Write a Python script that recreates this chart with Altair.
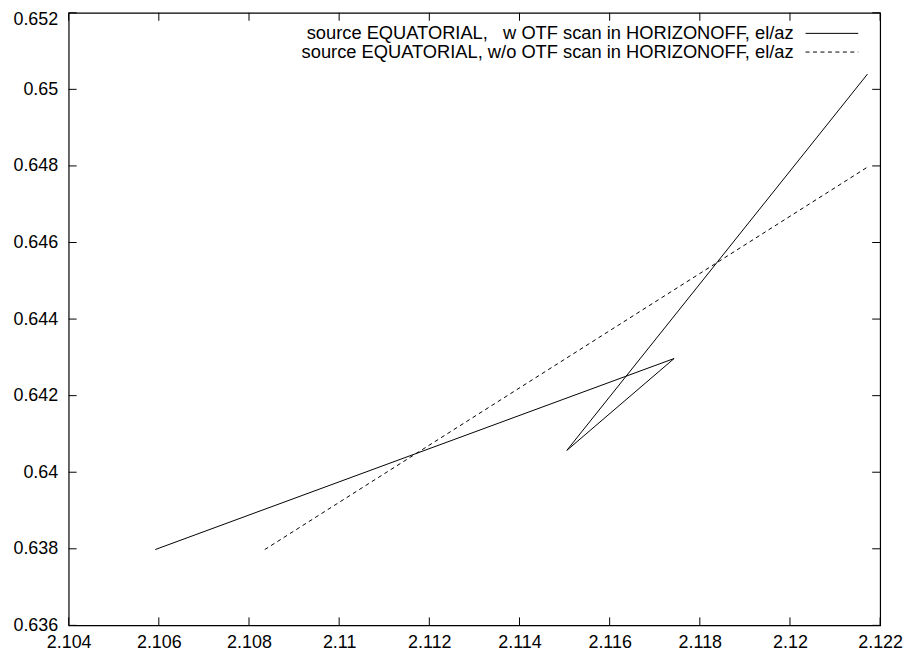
import altair as alt
import pandas as pd

# ---- data ----
solid_label = "source EQUATORIAL,\u00a0\u00a0 w OTF scan in HORIZONOFF, el/az"
dashed_label = "source EQUATORIAL, w/o OTF scan in HORIZONOFF, el/az"

solid_x = [2.10592, 2.11743, 2.11505, 2.12172]
solid_y = [0.63798, 0.64297, 0.64057, 0.65040]
dashed_x = [2.10835, 2.12172]
dashed_y = [0.63798, 0.64797]

x_ticks = [2.104, 2.106, 2.108, 2.110, 2.112, 2.114, 2.116, 2.118, 2.120, 2.122]
y_ticks = [0.636, 0.638, 0.640, 0.642, 0.644, 0.646, 0.648, 0.650, 0.652]

W, H = 816, 616
FONT = "Liberation Sans"

solid_df = pd.DataFrame({"x": solid_x, "y": solid_y, "i": list(range(len(solid_x)))})
dashed_df = pd.DataFrame({"x": dashed_x, "y": dashed_y, "i": list(range(len(dashed_x)))})
xt_df = pd.DataFrame({"t": x_ticks})
yt_df = pd.DataFrame({"t": y_ticks})

xscale = alt.Scale(domain=[x_ticks[0], x_ticks[-1]], nice=False, zero=False)
yscale = alt.Scale(domain=[y_ticks[0], y_ticks[-1]], nice=False, zero=False)

xaxis = alt.Axis(values=x_ticks, format=".3~f", title=None, ticks=False, domain=False,
                 grid=False, labelFont=FONT, labelFontSize=18, labelColor="black",
                 labelPadding=8, labelFlush=False)
yaxis = alt.Axis(values=y_ticks, format=".3~f", title=None, ticks=False, domain=False,
                 grid=False, labelFont=FONT, labelFontSize=18, labelColor="black",
                 labelPadding=11, labelFlush=False,
                 labelOffset=alt.ExprRef(expr="datum.value > 0.6515 ? 7 : 0"))

solid = alt.Chart(solid_df).mark_line(color="black", strokeWidth=1).encode(
    x=alt.X("x:Q", scale=xscale, axis=xaxis),
    y=alt.Y("y:Q", scale=yscale, axis=yaxis),
    order="i:Q",
)
dashed = alt.Chart(dashed_df).mark_line(color="black", strokeWidth=1, strokeDash=[4, 3.5]).encode(
    x=alt.X("x:Q", scale=xscale),
    y=alt.Y("y:Q", scale=yscale),
    order="i:Q",
)

tick_len = 8
xt_bottom = alt.Chart(xt_df).mark_rule(color="black", strokeWidth=1).encode(
    x=alt.X("t:Q", scale=xscale), y=alt.value(H), y2=alt.value(H - tick_len))
xt_top = alt.Chart(xt_df).mark_rule(color="black", strokeWidth=1).encode(
    x=alt.X("t:Q", scale=xscale), y=alt.value(0), y2=alt.value(tick_len))
yt_left = alt.Chart(yt_df).mark_rule(color="black", strokeWidth=1).encode(
    y=alt.Y("t:Q", scale=yscale), x=alt.value(0), x2=alt.value(tick_len))
yt_right = alt.Chart(yt_df).mark_rule(color="black", strokeWidth=1).encode(
    y=alt.Y("t:Q", scale=yscale), x=alt.value(W), x2=alt.value(W - tick_len))

# legend (gnuplot style: text on the left, sample on the right)
leg1_text = alt.Chart(pd.DataFrame({"l": [solid_label]})).mark_text(
    font=FONT, fontSize=18.4, align="right", baseline="alphabetic", color="black").encode(
    text="l:N", x=alt.value(729), y=alt.value(26.6))
leg2_text = alt.Chart(pd.DataFrame({"l": [dashed_label]})).mark_text(
    font=FONT, fontSize=18.4, align="right", baseline="alphabetic", color="black").encode(
    text="l:N", x=alt.value(729), y=alt.value(45.2))
leg1_line = alt.Chart(pd.DataFrame({"l": [solid_label]})).mark_rule(
    color="black", strokeWidth=1).encode(x=alt.value(741), x2=alt.value(794), y=alt.value(20.7))
leg2_line = alt.Chart(pd.DataFrame({"l": [dashed_label]})).mark_rule(
    color="black", strokeWidth=1, strokeDash=[4, 3.5]).encode(
    x=alt.value(741), x2=alt.value(794), y=alt.value(39.5))

chart = alt.layer(
    solid, dashed, xt_bottom, xt_top, yt_left, yt_right,
    leg1_text, leg2_text, leg1_line, leg2_line,
).properties(
    width=W, height=H,
    autosize=alt.AutoSizeParams(type="none"),
    padding={"left": 61, "top": 3, "right": 26, "bottom": 30},
    background="white",
).configure_view(stroke="black", strokeWidth=1.2)

chart.save("out.html", embed_options={"renderer": "svg", "actions": False})
